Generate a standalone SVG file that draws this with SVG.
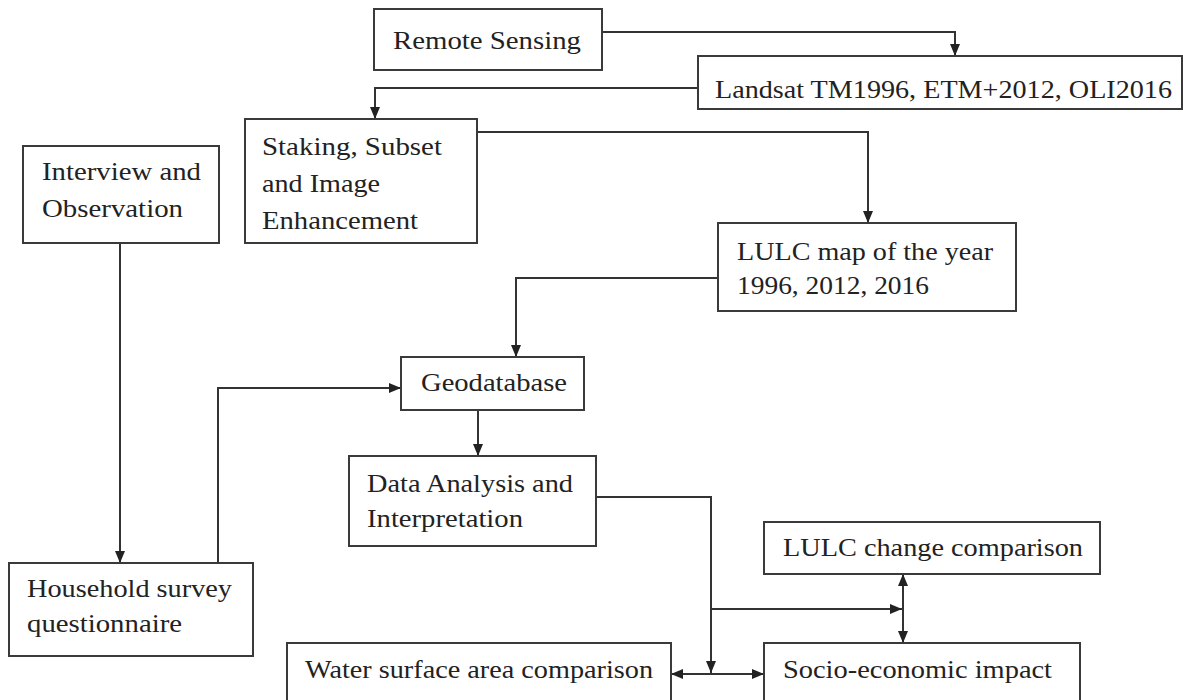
<svg xmlns="http://www.w3.org/2000/svg" width="1183" height="700" viewBox="0 0 1183 700">
<style>
.box{fill:#fff;stroke:#3a3a3a;stroke-width:2}
.t{font-family:"Liberation Serif","Times New Roman",serif;font-size:26px;fill:#222}
.c{fill:none;stroke:#333;stroke-width:2}
</style>
<defs>
<marker id="arr" viewBox="0 0 12 10" refX="12" refY="5" markerWidth="12" markerHeight="10" orient="auto-start-reverse" markerUnits="userSpaceOnUse">
<path d="M0,0 L12,5 L0,10 z" fill="#222"/>
</marker>
</defs>
<rect width="1183" height="700" fill="#fff"/>
<g id="connectors">
<path class="c" d="M602,32 H955 V56" marker-end="url(#arr)"/>
<path class="c" d="M698,88 H375 V119" marker-end="url(#arr)"/>
<path class="c" d="M477,132 H868 V223" marker-end="url(#arr)"/>
<path class="c" d="M718,278 H516 V357" marker-end="url(#arr)"/>
<path class="c" d="M120,243 V563" marker-end="url(#arr)"/>
<path class="c" d="M218,563 V388 H401" marker-end="url(#arr)"/>
<path class="c" d="M478,410 V456" marker-end="url(#arr)"/>
<path class="c" d="M596,497 H711 V673" marker-end="url(#arr)"/>
<path class="c" d="M711,609 H902" marker-end="url(#arr)"/>
<path class="c" d="M903,574 V643" marker-start="url(#arr)" marker-end="url(#arr)"/>
<path class="c" d="M671,674 H764" marker-start="url(#arr)" marker-end="url(#arr)"/>
</g>
<g id="remote-sensing">
<rect class="box" x="374" y="9" width="228" height="61"/>
<text class="t" x="393" y="49" textLength="188" lengthAdjust="spacingAndGlyphs">Remote Sensing</text>
</g>
<g id="landsat">
<rect class="box" x="698" y="56" width="484" height="53"/>
<text class="t" x="715" y="98" textLength="457" lengthAdjust="spacingAndGlyphs">Landsat TM1996, ETM+2012, OLI2016</text>
</g>
<g id="staking">
<rect class="box" x="245" y="119" width="232" height="124"/>
<text class="t" x="262" y="155" textLength="180" lengthAdjust="spacingAndGlyphs">Staking, Subset</text>
<text class="t" x="262" y="192" textLength="118" lengthAdjust="spacingAndGlyphs">and Image</text>
<text class="t" x="262" y="229" textLength="156" lengthAdjust="spacingAndGlyphs">Enhancement</text>
</g>
<g id="interview">
<rect class="box" x="23" y="146" width="196" height="97"/>
<text class="t" x="42" y="180" textLength="159" lengthAdjust="spacingAndGlyphs">Interview and</text>
<text class="t" x="42" y="217" textLength="141" lengthAdjust="spacingAndGlyphs">Observation</text>
</g>
<g id="lulc-map">
<rect class="box" x="718" y="223" width="298" height="88"/>
<text class="t" x="737" y="260" textLength="256" lengthAdjust="spacingAndGlyphs">LULC map of the year</text>
<text class="t" x="737" y="294" textLength="192" lengthAdjust="spacingAndGlyphs">1996, 2012, 2016</text>
</g>
<g id="geodatabase">
<rect class="box" x="401" y="357" width="183" height="53"/>
<text class="t" x="421" y="391" textLength="146" lengthAdjust="spacingAndGlyphs">Geodatabase</text>
</g>
<g id="data-analysis">
<rect class="box" x="349" y="456" width="247" height="90"/>
<text class="t" x="367" y="492" textLength="206" lengthAdjust="spacingAndGlyphs">Data Analysis and</text>
<text class="t" x="367" y="527" textLength="156" lengthAdjust="spacingAndGlyphs">Interpretation</text>
</g>
<g id="household">
<rect class="box" x="9" y="563" width="244" height="93"/>
<text class="t" x="27" y="597" textLength="205" lengthAdjust="spacingAndGlyphs">Household survey</text>
<text class="t" x="27" y="632" textLength="155" lengthAdjust="spacingAndGlyphs">questionnaire</text>
</g>
<g id="lulc-change">
<rect class="box" x="764" y="522" width="336" height="52"/>
<text class="t" x="783" y="556" textLength="300" lengthAdjust="spacingAndGlyphs">LULC change comparison</text>
</g>
<g id="socio-economic">
<rect class="box" x="764" y="643" width="316" height="70"/>
<text class="t" x="783" y="678" textLength="269" lengthAdjust="spacingAndGlyphs">Socio-economic impact</text>
</g>
<g id="water-surface">
<rect class="box" x="287" y="643" width="384" height="70"/>
<text class="t" x="305" y="678" textLength="348" lengthAdjust="spacingAndGlyphs">Water surface area comparison</text>
</g>
</svg>
